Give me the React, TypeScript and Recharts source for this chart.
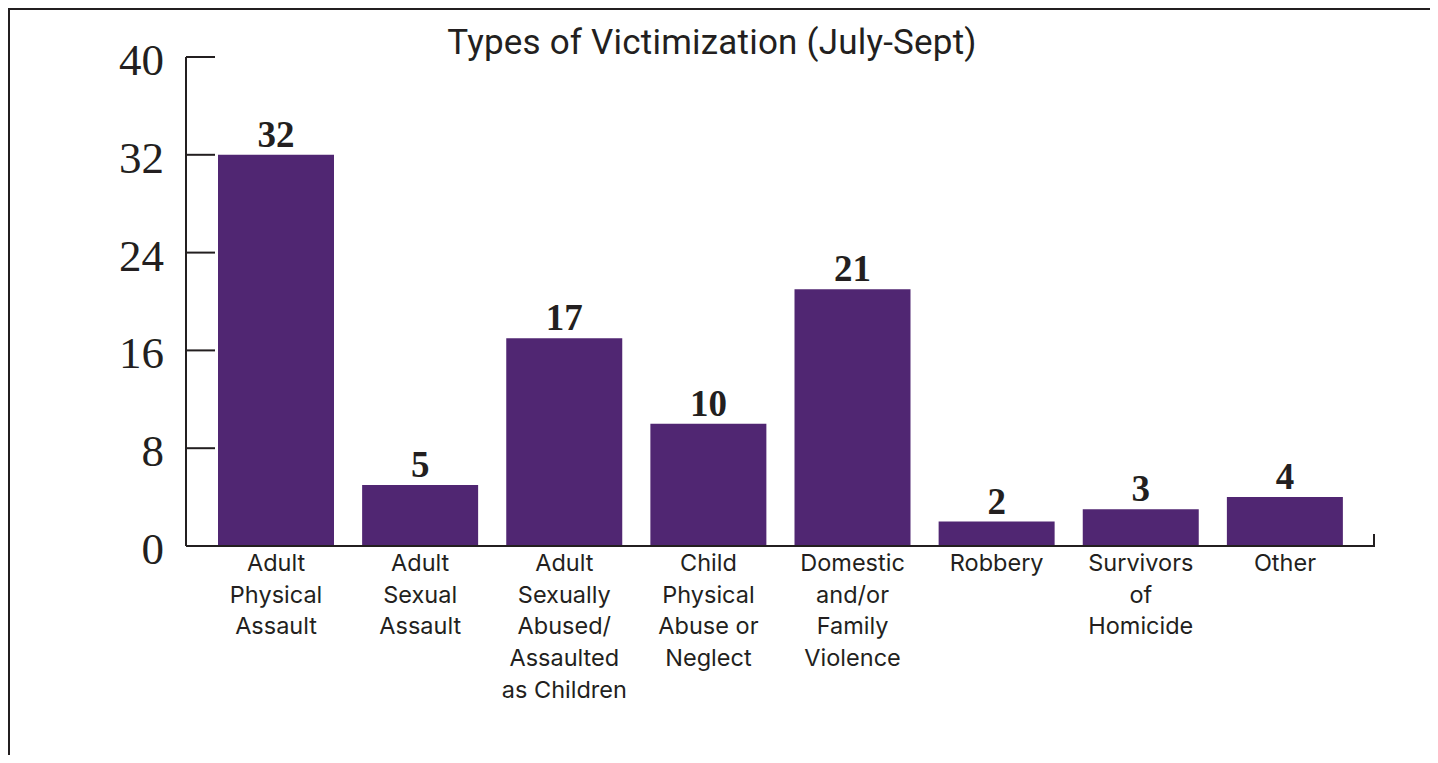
import React from 'react';
import { BarChart, Bar, XAxis, YAxis, LabelList } from 'recharts';

// victimization counts for the July-Sept quarter
const categories = [
  'Adult Physical Assault',
  'Adult Sexual Assault',
  'Adult Sexually Abused/Assaulted as Children',
  'Child Physical Abuse or Neglect',
  'Domestic and/or Family Violence',
  'Robbery',
  'Survivors of Homicide',
  'Other',
];
const counts = [32, 5, 17, 10, 21, 2, 3, 4];

// how each category label wraps under the axis
const tickLines = [
  ['Adult', 'Physical', 'Assault'],
  ['Adult', 'Sexual', 'Assault'],
  ['Adult', 'Sexually', 'Abused/', 'Assaulted', 'as Children'],
  ['Child', 'Physical', 'Abuse or', 'Neglect'],
  ['Domestic', 'and/or', 'Family', 'Violence'],
  ['Robbery'],
  ['Survivors', 'of', 'Homicide'],
  ['Other'],
];
const yTicks = [0, 8, 16, 24, 32, 40];

const INK = '#231f20';
const PURPLE = '#502672';

const data = categories.map((name, i) => ({ name, value: counts[i] }));

// y ticks: mark goes inward from the axis, big serif number on the left
function YTick(props: any) {
  const { x, y, payload } = props;
  return (
    <g>
      <line x1={x} y1={y} x2={x + 29} y2={y} stroke={INK} strokeWidth={2} />
      <text
        x={x - 22}
        y={y + 18}
        textAnchor="end"
        fill={INK}
        fontFamily="'Liberation Serif', serif"
        fontSize={45}
      >
        {payload.value}
      </text>
    </g>
  );
}

function XTick(props: any) {
  const { x, y, payload } = props;
  const idx = categories.indexOf(payload.value);
  const lines = tickLines[idx] || [payload.value];
  return (
    <text
      x={x}
      y={y + 25}
      textAnchor="middle"
      fill={INK}
      fontFamily="Inter, sans-serif"
      fontSize={23.5}
    >
      {lines.map((l, i) => (
        <tspan key={i} x={x} dy={i === 0 ? 0 : 31.7}>
          {l}
        </tspan>
      ))}
    </text>
  );
}

// small upright tick closing the right end of the x axis
function EndTick(props: any) {
  const vb = props.viewBox || {};
  const ex = vb.x + vb.width;
  return <line x1={ex} y1={vb.y + 1} x2={ex} y2={vb.y - 12} stroke={INK} strokeWidth={2} />;
}

export default function App() {
  return (
    <div
      style={{
        position: 'relative',
        width: 1423,
        height: 745,
        border: `2px solid ${INK}`,
        borderBottom: 'none',
        background: '#fff',
      }}
    >
      <div
        style={{
          position: 'absolute',
          left: 702,
          top: 15,
          transform: 'translateX(-50%)',
          whiteSpace: 'nowrap',
          fontFamily: 'Roboto, sans-serif',
          fontSize: 35,
          lineHeight: '35px',
          letterSpacing: 0.2,
          color: INK,
        }}
      >
        Types of Victimization (July-Sept)
      </div>
      <BarChart
        width={1423}
        height={745}
        data={data}
        margin={{ top: 47, right: 59, left: 96, bottom: 29 }}
      >
        <XAxis
          dataKey="name"
          height={180}
          interval={0}
          padding={{ left: 18, right: 17 }}
          axisLine={{ stroke: INK, strokeWidth: 2 }}
          tickLine={false}
          tickSize={0}
          tickMargin={0}
          tick={<XTick />}
          label={(p: any) => <EndTick {...p} />}
        />
        <YAxis
          width={80}
          domain={[0, 40]}
          ticks={yTicks}
          interval={0}
          axisLine={{ stroke: INK, strokeWidth: 2 }}
          tickLine={false}
          tickSize={0}
          tickMargin={0}
          tick={<YTick />}
        />
        <Bar dataKey="value" fill={PURPLE} barSize={116} isAnimationActive={false}>
          <LabelList
            dataKey="value"
            position="top"
            offset={8}
            fill={INK}
            fontFamily="'Liberation Serif', serif"
            fontWeight="bold"
            fontSize={37}
          />
        </Bar>
      </BarChart>
    </div>
  );
}
